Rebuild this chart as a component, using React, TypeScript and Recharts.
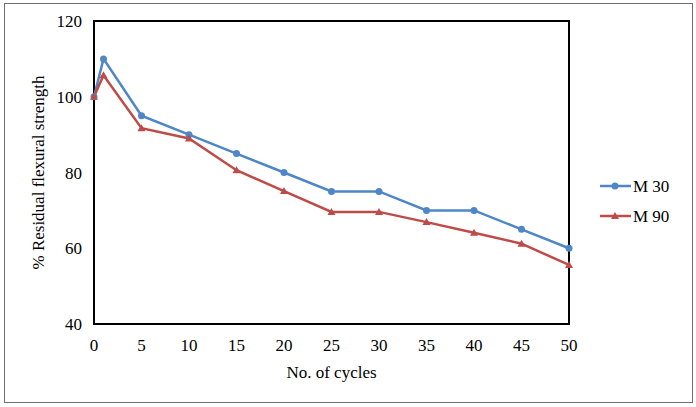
import React from "react";
import { LineChart, Line, XAxis, YAxis, ReferenceArea } from "recharts";

const cycles = [0, 1, 5, 10, 15, 20, 25, 30, 35, 40, 45, 50];
const m30 = [100, 110, 95, 90, 85, 80, 75, 75, 70, 70, 65, 60];
const m90 = [100, 105.7, 91.7, 89, 80.6, 75.1, 69.6, 69.6, 66.9, 64.1, 61.2, 55.6];
const xTicks = [0, 5, 10, 15, 20, 25, 30, 35, 40, 45, 50];
const yTicks = [40, 60, 80, 100, 120];

const BLUE = "#4F86C6";
const RED = "#BE4B48";
const FONT = "'Liberation Serif', 'Times New Roman', serif";

const data = cycles.map((c, i) => ({ cycle: c, m30: m30[i], m90: m90[i] }));

const TriangleDot = (props: any) => {
    const { cx, cy } = props;
    if (cx == null || cy == null) return null;
    return <path d={`M${cx},${cy - 4}L${cx + 4},${cy + 3}L${cx - 4},${cy + 3}Z`} fill={RED} />;
};

const tickStyle = { fill: "#000", fontSize: 17 };

export default function App() {
    return (
        <div style={{ position: "absolute", left: 0, top: 0, width: 696, height: 407, background: "#fff", fontFamily: FONT }}>
            <style>{`svg text, svg tspan { font-family: ${FONT} !important; }`}</style>
            <div style={{ position: "absolute", left: 4, top: 3, width: 687, height: 398, border: "1px solid #6f6f6f" }} />
            <LineChart
                width={696}
                height={407}
                data={data}
                margin={{ top: 21, right: 127, bottom: 33, left: 34 }}
            >
                <XAxis
                    dataKey="cycle"
                    type="number"
                    domain={[0, 50]}
                    ticks={xTicks}
                    tickLine={false}
                    axisLine={false}
                    height={50}
                    tick={tickStyle}
                    tickMargin={9}
                    label={{ value: "No. of cycles", position: "insideBottom", offset: -4, fill: "#000", fontSize: 17 }}
                />
                <YAxis
                    domain={[40, 120]}
                    ticks={yTicks}
                    tickLine={false}
                    axisLine={false}
                    width={60}
                    tick={tickStyle}
                    tickMargin={6}
                    label={{ value: "% Residual flexural strength", angle: -90, position: "insideLeft", offset: 4, style: { textAnchor: "middle" }, fill: "#000", fontSize: 17 }}
                />
                <ReferenceArea x1={0} x2={50} y1={40} y2={120} fill="none" stroke="#000" strokeWidth={2} fillOpacity={0} />
                <Line
                    dataKey="m30"
                    stroke={BLUE}
                    strokeWidth={2.5}
                    dot={{ r: 3.5, fill: BLUE, stroke: BLUE, strokeWidth: 0 }}
                    isAnimationActive={false}
                />
                <Line
                    dataKey="m90"
                    stroke={RED}
                    strokeWidth={2.5}
                    dot={<TriangleDot />}
                    isAnimationActive={false}
                />
            </LineChart>
            <svg style={{ position: "absolute", left: 598, top: 172 }} width={98} height={60}>
                <line x1={2} y1={14} x2={33} y2={14} stroke={BLUE} strokeWidth={2.5} />
                <circle cx={17} cy={14} r={3.5} fill={BLUE} />
                <text x={35} y={20} fontSize={17} fill="#000">M 30</text>
                <line x1={2} y1={44} x2={33} y2={44} stroke={RED} strokeWidth={2.5} />
                <path d="M17,40L21,47L13,47Z" fill={RED} />
                <text x={35} y={50} fontSize={17} fill="#000">M 90</text>
            </svg>
        </div>
    );
}
